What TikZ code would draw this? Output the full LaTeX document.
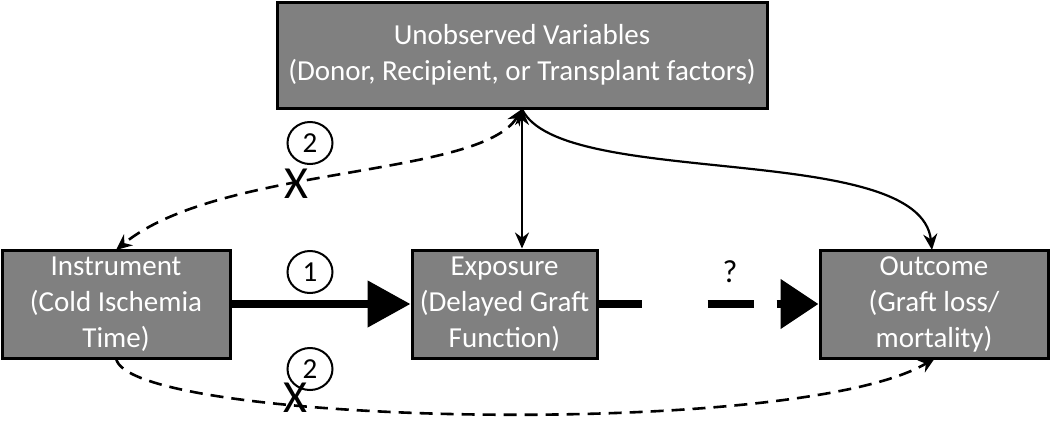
\documentclass[tikz,border=0pt]{standalone}
\usepackage{fontspec}
\setmainfont{Carlito}
\usetikzlibrary{arrows.meta,shapes.geometric}
\begin{document}
\begin{tikzpicture}[x=1pt,y=-1pt,
  box/.style={draw=black, line width=3pt, fill=black!50, text=white, align=center,
    font=\fontsize{29}{36}\selectfont, inner sep=0pt},
  num/.style={ellipse, draw=black, line width=2pt, minimum width=45pt, minimum height=42pt, inner sep=0pt, font=\fontsize{29}{29}\selectfont},
  cross/.style={inner sep=0pt, font=\fontsize{46}{46}\selectfont},
  thin/.style={line width=2.2pt, -{Stealth[length=16pt,width=14pt]}},
  dsh/.style={line width=2.6pt, dash pattern=on 13pt off 8pt, -{Stealth[length=16pt,width=14pt]}},
]
\useasboundingbox (0,0) rectangle (1050,421);
\node[box, minimum width=490pt, minimum height=106pt] (top) at (522,55) {Unobserved Variables\\(Donor, Recipient, or Transplant factors)};
\node[box, minimum width=228pt, minimum height=108pt] (ins) at (116,304) {Instrument\\(Cold Ischemia\\Time)};
\node[box, minimum width=185pt, minimum height=108pt] (exp) at (504.5,304) {Exposure\\(Delayed Graft\\Function)};
\node[box, minimum width=228pt, minimum height=108pt] (out) at (934,304) {Outcome\\(Graft loss/\\mortality)};

\coordinate (tb) at (522,109);
\coordinate (it) at (116,250);
\coordinate (ib) at (116,358);
\coordinate (ot) at (932,250);
\coordinate (ob) at (935,358);

\draw[line width=8pt, -{Triangle[length=43pt,width=45pt]}] (ins.east) -- (exp.west);
\draw[line width=8pt, dash pattern=on 43pt off 66pt on 46pt off 23pt on 40pt, -{Triangle[length=38pt,width=48pt]}] (exp.east) -- (out.west);
\node[font=\fontsize{32}{32}\selectfont] (q) at (730,272) {?};
\node[num] (n1) at (310,272) {1};

\draw[thin, {Stealth[length=16pt,width=14pt]}-{Stealth[length=16pt,width=14pt]}] (tb) -- (tb |- exp.north);
\draw[thin] (tb) .. controls (560,190) and (920,140) .. (ot);
\draw[dsh, {Stealth[length=16pt,width=14pt]}-{Stealth[length=16pt,width=14pt]}] (tb) .. controls (480,178) and (220,165) .. (it);
\draw[dsh] (ib) .. controls (125,425) and (800,440) .. (ob);

\node[num] (n2a) at (310,143) {2};
\node[cross] (x1) at (296,184) {X};
\node[num] (n2b) at (310,369) {2};
\node[cross] (x2) at (295,398) {X};
\end{tikzpicture}
\end{document}
